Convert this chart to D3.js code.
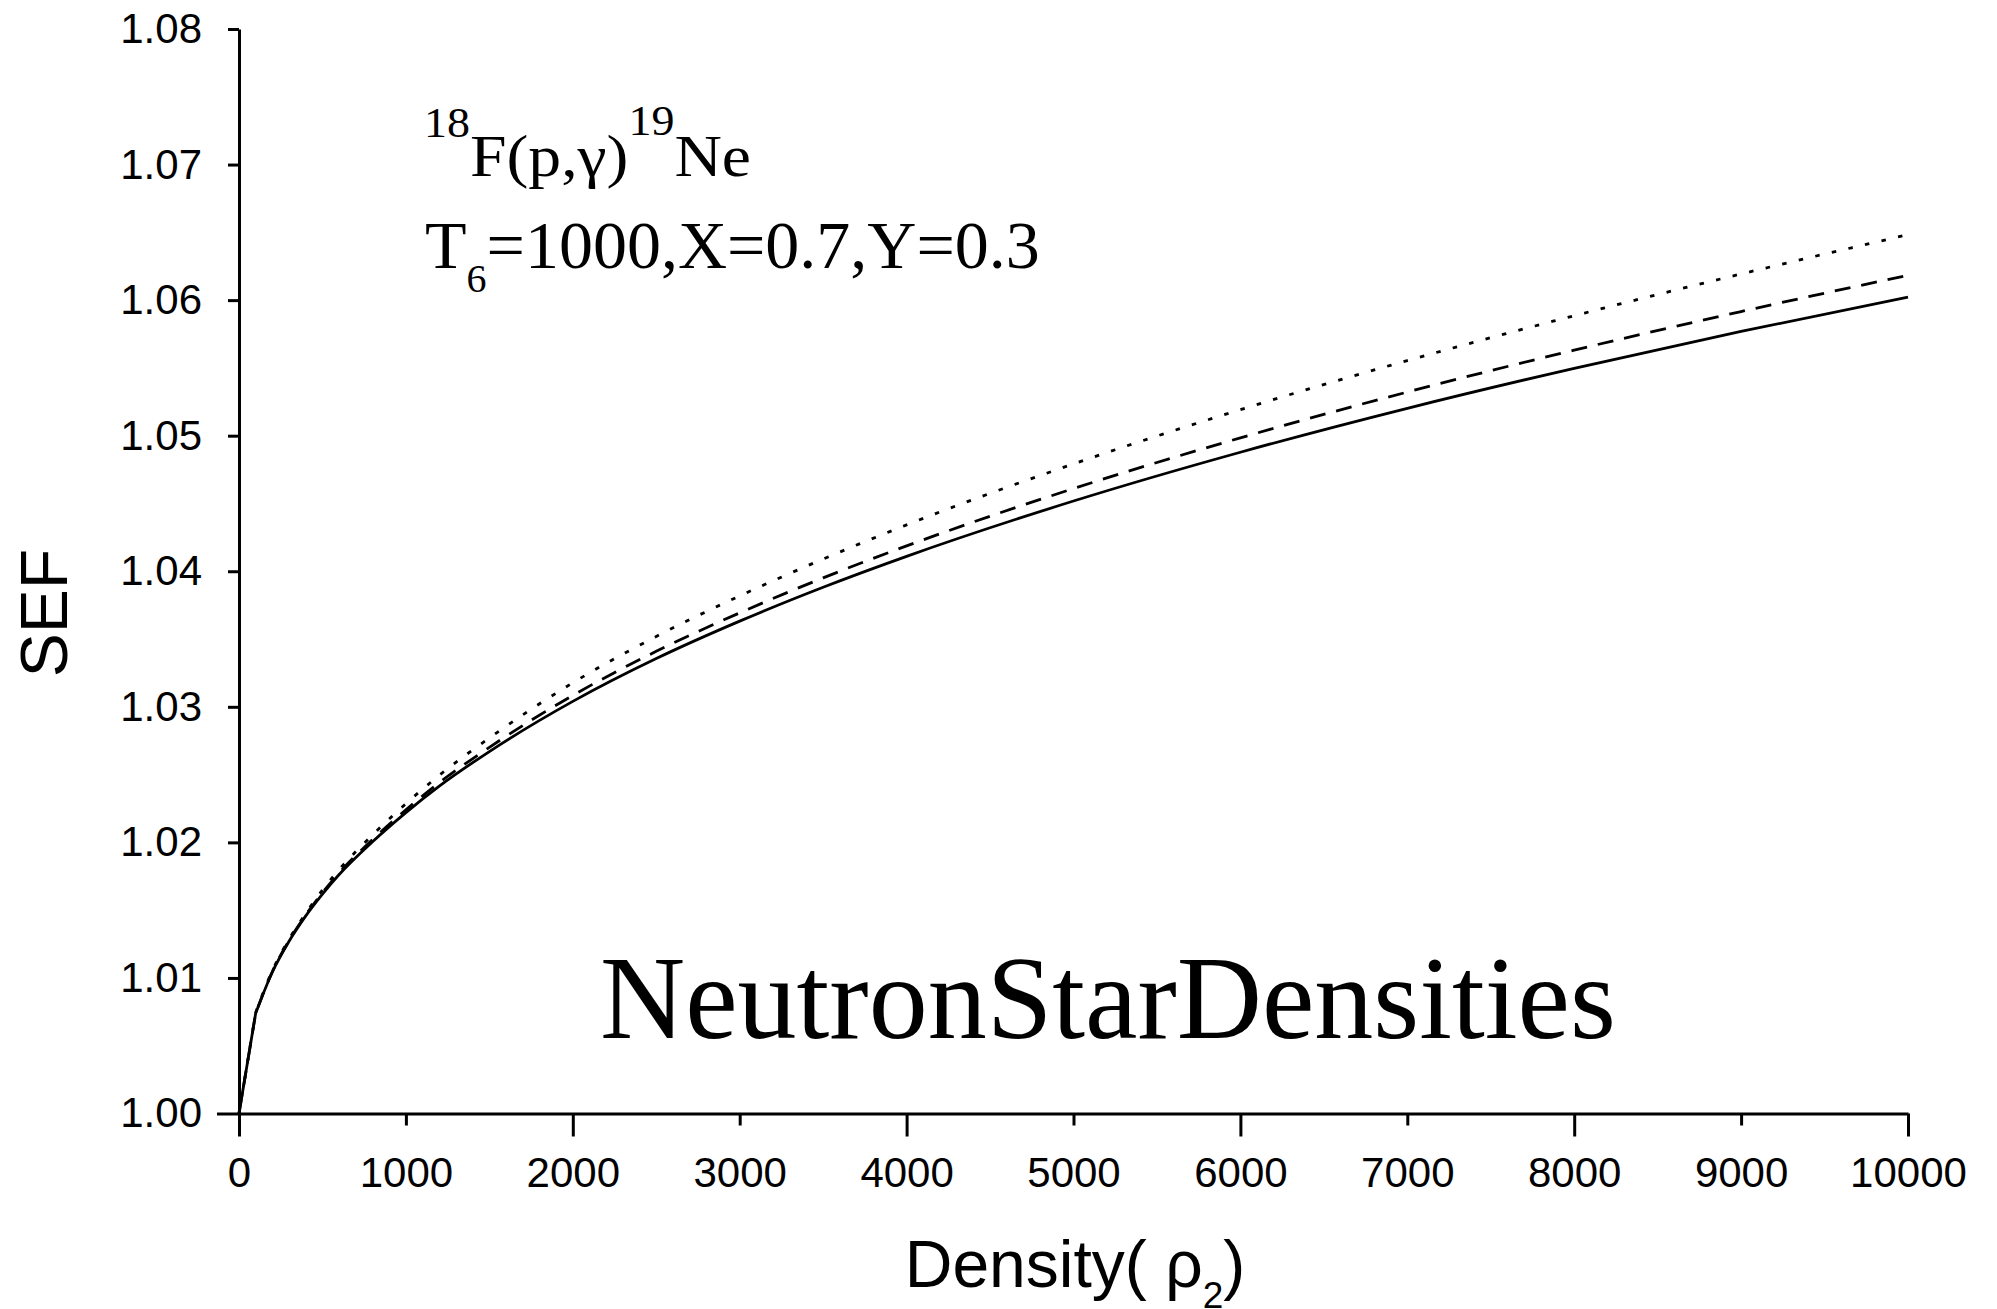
<!DOCTYPE html>
<html>
<head>
<meta charset="utf-8">
<script src="https://cdn.jsdelivr.net/npm/d3@7"></script>
<style>
  html, body { margin: 0; padding: 0; background: #fff; }
  svg { display: block; }
  .axis text { font-family: Arial, "Liberation Sans", sans-serif; font-size: 42px; fill: #000; }
  .axis path, .axis line { stroke: #000; stroke-width: 3; }
</style>
</head>
<body>
<svg id="chart" width="1997" height="1309"></svg>
<script>
// Density grid (rho_2) at which SEF was evaluated
const density = [0, 100, 200, 300, 400, 500, 600, 800, 1000, 1200, 1500, 2000, 2500,
                 3000, 3500, 4000, 5000, 6000, 7000, 8000, 9000, 10000];

// Screening enhancement factor for the three screening treatments
const sefSolid  = [1.00000, 1.00740, 1.01044, 1.01271, 1.01458, 1.01619, 1.01763, 1.02005, 1.02220, 1.02415, 1.02670,
                   1.03040, 1.03356, 1.03632, 1.03882, 1.04110, 1.04518, 1.04878, 1.05202, 1.05497, 1.05769, 1.06023];
const sefDashed = [1.00000, 1.00740, 1.01047, 1.01276, 1.01465, 1.01629, 1.01775, 1.02021, 1.02240, 1.02440, 1.02701,
                   1.03084, 1.03409, 1.03693, 1.03951, 1.04187, 1.04610, 1.04984, 1.05322, 1.05631, 1.05916, 1.06183];
const sefDotted = [1.00000, 1.00745, 1.01054, 1.01286, 1.01476, 1.01649, 1.01799, 1.02055, 1.02285, 1.02495, 1.02770,
                   1.03177, 1.03519, 1.03818, 1.04090, 1.04342, 1.04792, 1.05192, 1.05554, 1.05885, 1.06193, 1.06483];

// Axis ticks
const xTicks = [0, 1000, 2000, 3000, 4000, 5000, 6000, 7000, 8000, 9000, 10000];
const yTicks = [1.00, 1.01, 1.02, 1.03, 1.04, 1.05, 1.06, 1.07, 1.08];

const svg = d3.select("#chart");
svg.append("rect").attr("width", 1997).attr("height", 1309).attr("fill", "#fff");

const x = d3.scaleLinear().domain([0, 10000]).range([239, 1908]);
const y = d3.scaleLinear().domain([1.00, 1.08]).range([1113.5, 29]);

// x axis: long ticks every 2000, short ones in between
const gx = svg.append("g").attr("class", "axis")
  .attr("transform", `translate(0,${y(1.00)})`)
  .call(d3.axisBottom(x).tickValues(xTicks).tickFormat(d3.format("d"))
        .tickSizeInner(12).tickSizeOuter(0).tickPadding(32));
gx.selectAll(".tick line").attr("y2", d => d % 2000 === 0 ? 23 : 12);

// y axis
const gy = svg.append("g").attr("class", "axis")
  .attr("transform", `translate(${x(0)},0)`)
  .call(d3.axisLeft(y).tickValues(yTicks).tickFormat(d3.format(".2f"))
        .tickSizeInner(11).tickSizeOuter(0).tickPadding(26));
gy.selectAll(".tick line").attr("x2", d => Math.abs(d - 1.00) < 1e-9 ? -22 : -11);

// curves: straight first step from the origin, smooth through the rest
const series = [
  { values: sefSolid,  dash: null },
  { values: sefDashed, dash: "16,11" },
  { values: sefDotted, dash: "4.5,12.5" }
];
const pts = vals => vals.map((v, i) => [x(density[i]), y(v)]);
const smooth = d3.line().curve(d3.curveMonotoneX);
function curvePath(vals) {
  const p = pts(vals);
  const rest = smooth(p.slice(1));
  return `M${p[0][0]},${p[0][1]}L` + rest.slice(1);
}

svg.append("g").selectAll("path")
  .data(series)
  .join("path")
  .attr("d", s => curvePath(s.values))
  .attr("fill", "none")
  .attr("stroke", "#000")
  .attr("stroke-width", 2.8)
  .attr("stroke-dasharray", s => s.dash);

// axis titles
svg.append("text")
  .attr("transform", "translate(67,613) rotate(-90)")
  .attr("text-anchor", "middle")
  .attr("font-family", "Arial, 'Liberation Sans', sans-serif")
  .attr("font-size", 66)
  .text("SEF");

const xt = svg.append("text")
  .attr("x", 1075).attr("y", 1287)
  .attr("text-anchor", "middle")
  .attr("font-family", "Arial, 'Liberation Sans', sans-serif")
  .attr("font-size", 66);
xt.append("tspan").text("Density( ρ");
xt.append("tspan").attr("font-size", 37).attr("dy", 21).text("2");
xt.append("tspan").attr("dy", -21).text(")");

// reaction and conditions
const serif = "'Times New Roman', 'Liberation Serif', serif";
const t1 = svg.append("text")
  .attr("x", 424).attr("y", 176)
  .attr("font-family", serif).attr("font-size", 60)
  .attr("textLength", 327).attr("lengthAdjust", "spacingAndGlyphs");
t1.append("tspan").attr("font-size", 42).attr("dy", -39).text("18");
t1.append("tspan").attr("dy", 39).text("F(p,γ)");
t1.append("tspan").attr("font-size", 42).attr("dy", -41).text("19");
t1.append("tspan").attr("dy", 41).text("Ne");

const t2 = svg.append("text")
  .attr("x", 425).attr("y", 268)
  .attr("font-family", serif).attr("font-size", 68);
t2.append("tspan").text("T");
t2.append("tspan").attr("font-size", 40).attr("dy", 24).text("6");
t2.append("tspan").attr("dy", -24).text("=1000,X=0.7,Y=0.3");

svg.append("text")
  .attr("x", 600).attr("y", 1038)
  .attr("font-family", serif).attr("font-size", 118)
  .text("NeutronStarDensities");
</script>
</body>
</html>
